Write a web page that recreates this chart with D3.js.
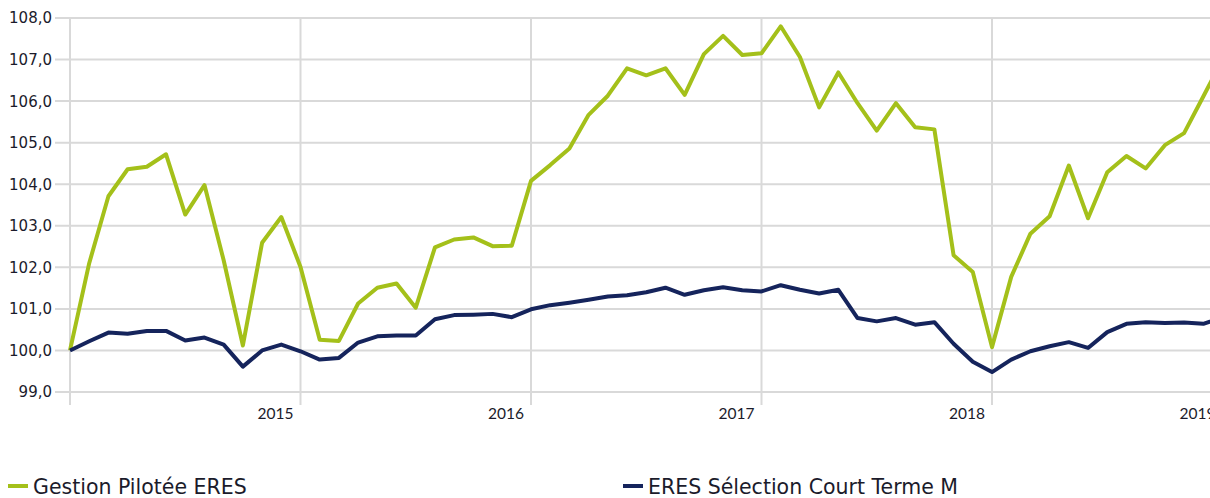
<!DOCTYPE html>
<html>
<head>
<meta charset="utf-8">
<script src="https://cdn.jsdelivr.net/npm/d3@7"></script>
<style>
  html, body { margin: 0; padding: 0; background: #fff; overflow: hidden; }
</style>
</head>
<body>
<div id="chart"></div>
<script>
// 1: DATA (monthly, Jan 2014 -> Jan 2019)
const yearLabels = ["2015", "2016", "2017", "2018", "2019"];
const yTicks = [99, 100, 101, 102, 103, 104, 105, 106, 107, 108];
const seriesNames = ["Gestion Pilotée ERES", "ERES Sélection Court Terme M"];

const gestionPilotee = [
    100.0, 102.1, 103.71, 104.36, 104.42, 104.72, 103.27, 103.98, 102.17, 100.12, 102.59, 103.21,
    102.01, 100.26, 100.23, 101.13, 101.51, 101.61, 101.03, 102.48, 102.67, 102.72, 102.51, 102.52,
    104.08, 104.46, 104.86, 105.67, 106.13, 106.79, 106.62, 106.79, 106.15, 107.13, 107.57, 107.11,
    107.15, 107.80, 107.06, 105.85, 106.69, 105.95, 105.29, 105.95, 105.37, 105.32, 102.29, 101.89,
    100.08, 101.77, 102.81, 103.23, 104.45, 103.18, 104.29, 104.68, 104.38, 104.94, 105.23, 106.11,
    107.0
];

const selectionCourtTerme = [
    100.0, 100.22, 100.43, 100.40, 100.47, 100.47, 100.24, 100.31, 100.14, 99.61, 100.0, 100.14,
    99.98, 99.78, 99.82, 100.19, 100.34, 100.36, 100.36, 100.75, 100.85, 100.86, 100.88, 100.80,
    100.99, 101.09, 101.15, 101.22, 101.30, 101.33, 101.40, 101.51, 101.34, 101.45, 101.52, 101.45,
    101.42, 101.57, 101.46, 101.37, 101.46, 100.78, 100.70, 100.78, 100.62, 100.68, 100.16, 99.73,
    99.48, 99.78, 99.98, 100.10, 100.20, 100.06, 100.44, 100.64, 100.68, 100.66, 100.67, 100.64,
    100.8
];

const colors = ["#a4c01a", "#15245c"];

// 2: LAYOUT
const W = 1210, H = 498;
const plot = { left: 70, top: 18, bottom: 392, right: 1222.5 };

const svg = d3.select("#chart")
    .append("svg")
    .attr("width", W)
    .attr("height", H);

const x = d3.scaleLinear()
    .domain([0, 60])
    .range([plot.left, plot.right]);

const y = d3.scaleLinear()
    .domain([99, 108])
    .range([plot.bottom, plot.top]);

const fmt = v => d3.format(".1f")(v).replace(".", ",");

// 3: GRID
svg.append("g")
    .selectAll("line")
    .data(yTicks)
    .join("line")
    .attr("x1", 55)
    .attr("x2", W)
    .attr("y1", d => y(d))
    .attr("y2", d => y(d))
    .attr("stroke", "#d9d9d9")
    .attr("stroke-width", 2);

const vTicks = [0, 12, 24, 36, 48, 60];
svg.append("g")
    .selectAll("line")
    .data(vTicks)
    .join("line")
    .attr("x1", d => x(d))
    .attr("x2", d => x(d))
    .attr("y1", plot.top)
    .attr("y2", 405)
    .attr("stroke", "#d9d9d9")
    .attr("stroke-width", 2);

// y labels
svg.append("g")
    .selectAll("text")
    .data(yTicks)
    .join("text")
    .attr("x", 52)
    .attr("y", d => y(d))
    .attr("dy", "0.36em")
    .attr("text-anchor", "end")
    .style("font-family", "'DejaVu Sans', Verdana, sans-serif")
    .style("font-size", "15px")
    .attr("fill", "#1b1b2b")
    .text(fmt);

// x labels (year, drawn just left of its gridline)
svg.append("g")
    .selectAll("text")
    .data(yearLabels)
    .join("text")
    .attr("x", (d, i) => x((i + 1) * 12) - 7)
    .attr("y", 419)
    .attr("text-anchor", "end")
    .style("font-family", "Lato, sans-serif")
    .style("font-size", "15.5px")
    .attr("fill", "#1b1b2b")
    .text(d => d);

// 4: LINES
const line = d3.line()
    .x((d, i) => x(i))
    .y(d => y(d));

[gestionPilotee, selectionCourtTerme].forEach((s, k) => {
    svg.append("path")
        .datum(s)
        .attr("fill", "none")
        .attr("stroke", colors[k])
        .attr("stroke-width", 4)
        .attr("stroke-linejoin", "round")
        .attr("d", line);
});

// 5: LEGEND
const legendX = [8, 623];
seriesNames.forEach((name, i) => {
    svg.append("rect")
        .attr("x", legendX[i])
        .attr("y", 484)
        .attr("width", 20)
        .attr("height", 4)
        .attr("fill", colors[i]);

    svg.append("text")
        .attr("x", legendX[i] + 25)
        .attr("y", 494)
        .style("font-family", "'DejaVu Sans', Verdana, sans-serif")
        .style("font-size", "20.5px")
        .attr("fill", "#1b1b2b")
        .text(name);
});
</script>
</body>
</html>
